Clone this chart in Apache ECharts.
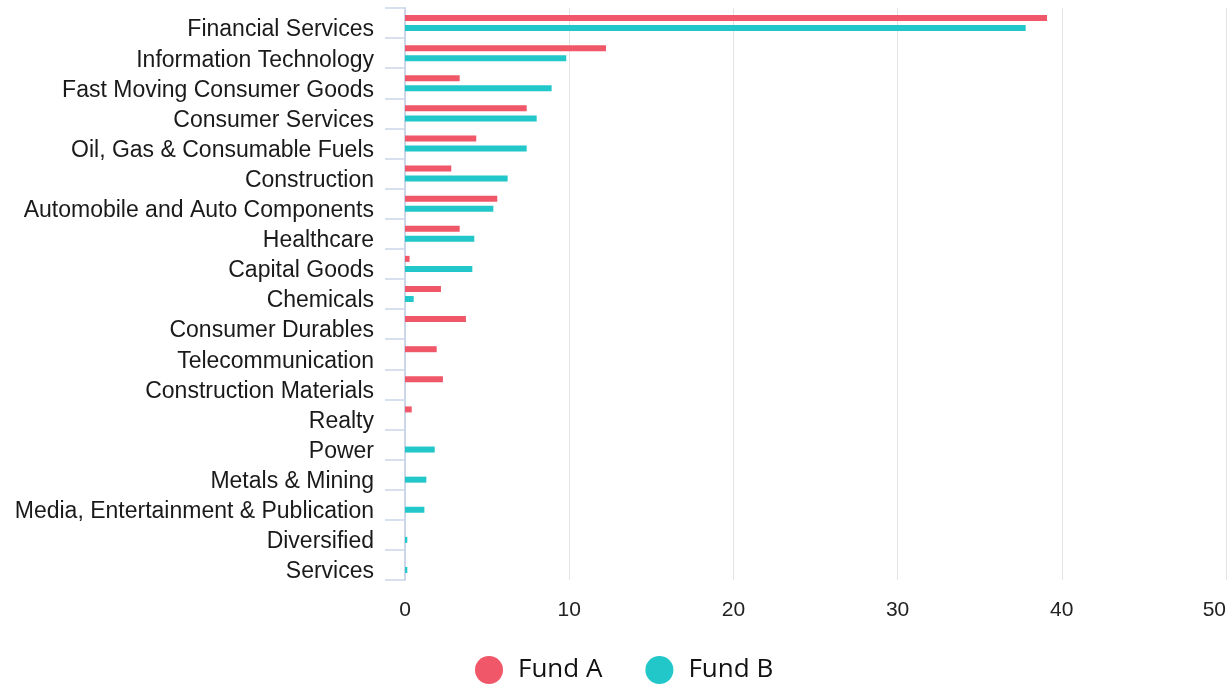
<!DOCTYPE html>
<html>
<head>
<meta charset="utf-8">
<script src="https://cdn.jsdelivr.net/npm/echarts@6/dist/echarts.min.js"></script>
<style>
html,body{margin:0;padding:0;background:#fff;}
#chart{width:1230px;height:689px;}
</style>
</head>
<body>
<div id="chart"></div>
<script>
const categories = [
  "Financial Services",
  "Information Technology",
  "Fast Moving Consumer Goods",
  "Consumer Services",
  "Oil, Gas & Consumable Fuels",
  "Construction",
  "Automobile and Auto Components",
  "Healthcare",
  "Capital Goods",
  "Chemicals",
  "Consumer Durables",
  "Telecommunication",
  "Construction Materials",
  "Realty",
  "Power",
  "Metals & Mining",
  "Media, Entertainment & Publication",
  "Diversified",
  "Services"
];
const fundA = [39.1, 12.24, 3.33, 7.41, 4.34, 2.82, 5.62, 3.33, 0.28, 2.19, 3.71, 1.93, 2.31, 0.41, 0, 0, 0, 0, 0];
const fundB = [37.8, 9.82, 8.93, 8.02, 7.41, 6.25, 5.38, 4.22, 4.10, 0.53, 0, 0, 0, 0, 1.81, 1.30, 1.18, 0.14, 0.14];
const seriesNames = ["Fund A", "Fund B"];
const xTicks = { min: 0, max: 50, interval: 10 };

const chart = echarts.init(document.getElementById('chart'), null, { renderer: 'canvas' });
chart.setOption({
  animation: false,
  color: ['#f05768', '#22c7c9'],
  grid: { left: 405, right: 4, top: 8, bottom: 109, containLabel: false, outerBoundsMode: 'none' },
  legend: {
    data: seriesNames,
    icon: 'circle',
    left: 475,
    top: 656,
    padding: 0,
    itemWidth: 28,
    itemHeight: 28,
    itemGap: 43,
    textStyle: {
      fontFamily: 'Open Sans',
      fontSize: 26,
      color: '#111',
      padding: [0, 0, 0, 10]
    }
  },
  xAxis: {
    type: 'value',
    min: xTicks.min,
    max: xTicks.max,
    interval: xTicks.interval,
    axisLine: { show: false },
    axisTick: { show: false },
    splitLine: { show: true, lineStyle: { color: '#e3e3e3', width: 1 } },
    axisLabel: {
      margin: 20,
      fontFamily: 'Liberation Sans',
      fontSize: 21,
      color: '#222',
      alignMaxLabel: 'right'
    }
  },
  yAxis: {
    type: 'category',
    data: categories,
    inverse: true,
    axisLine: { show: true, lineStyle: { color: '#ccd6eb', width: 2 } },
    axisTick: { show: true, length: 20, lineStyle: { color: '#ccd6eb', width: 1.5 } },
    axisLabel: {
      margin: 31,
      formatter: '{a|{value}}',
      rich: {
        a: {
          fontFamily: 'Liberation Sans',
          fontSize: 23,
          color: '#1a1a1a',
          padding: [14, 0, 0, 0]
        }
      }
    }
  },
  series: [
    {
      name: seriesNames[0],
      type: 'bar',
      data: fundA,
      barWidth: 6,
      barGap: '67%'
    },
    {
      name: seriesNames[1],
      type: 'bar',
      data: fundB,
      barWidth: 6,
      barGap: '67%'
    }
  ]
});
</script>
</body>
</html>
